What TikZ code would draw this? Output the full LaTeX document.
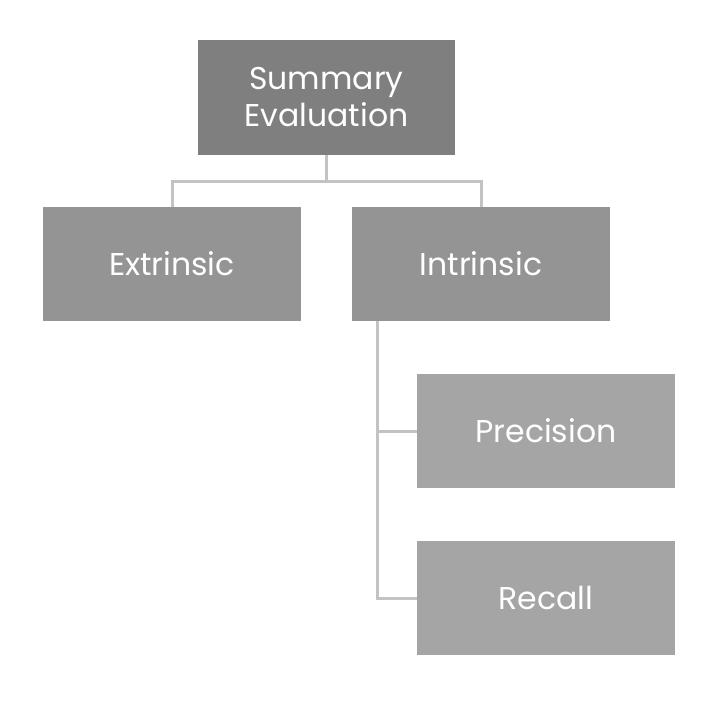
\documentclass[tikz,border=0pt]{standalone}
\usepackage{fontspec}
\setmainfont{Poppins}
\definecolor{boxtop}{HTML}{7F7F7F}
\definecolor{boxmid}{HTML}{949494}
\definecolor{boxlow}{HTML}{A5A5A5}
\definecolor{linkgray}{HTML}{C3C3C3}
\usetikzlibrary{positioning}

\begin{document}
\begin{tikzpicture}[x=1pt,y=-1pt,
  root/.style={fill=boxtop,text=white,align=center,minimum width=257pt,
    minimum height=115pt,inner sep=0pt,font=\fontsize{31.5}{37}\selectfont},
  branch/.style={fill=boxmid,text=white,align=center,minimum width=258pt,
    minimum height=114pt,inner sep=0pt,font=\fontsize{31.5}{37}\selectfont},
  leaf/.style={fill=boxlow,text=white,align=center,minimum width=258pt,
    minimum height=114pt,inner sep=0pt,font=\fontsize{31.5}{37}\selectfont},
  link/.style={draw=linkgray,line width=3pt}]
  \useasboundingbox[fill=white] (0,0) rectangle (722,701);
  \node[root]   (sum)  at (326.5,97.5) {Summary\\Evaluation};
  \node[branch] (ext)  at (172,264)    {Extrinsic};
  \node[branch] (intr) at (481,264)    {Intrinsic};
  \node[leaf]   (prec) at (546,431)    {Precision};
  \node[leaf]   (rec)  at (546,598)    {Recall};
  \coordinate (spine) at (377,321);
  \draw[link] (sum.south) -- ++(0,26) -| (ext.north);
  \draw[link] (sum.south) -- ++(0,26) -| (intr.north);
  \draw[link] (spine) |- (prec.west);
  \draw[link] (spine) |- (rec.west);
\end{tikzpicture}
\end{document}
